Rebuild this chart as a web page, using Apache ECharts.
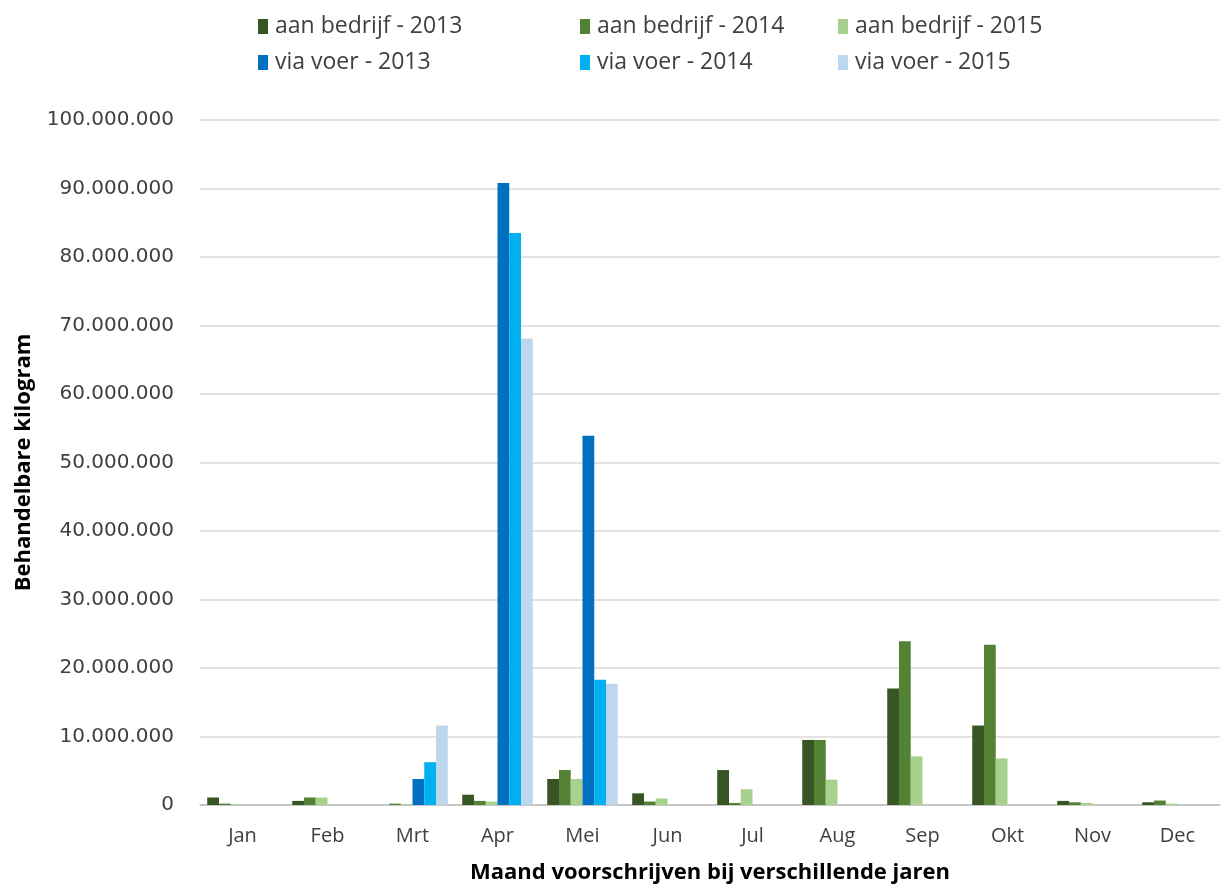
<!DOCTYPE html>
<html>
<head>
<meta charset="utf-8">
<script src="https://cdn.jsdelivr.net/npm/echarts@6/dist/echarts.min.js"></script>
<style>html,body{margin:0;padding:0;background:#fff;}#c{width:1222px;height:888px;}</style>
</head>
<body>
<div id="c"></div>
<script>
var months = ['Jan','Feb','Mrt','Apr','Mei','Jun','Jul','Aug','Sep','Okt','Nov','Dec'];
var seriesNames = ['aan bedrijf - 2013','aan bedrijf - 2014','aan bedrijf - 2015','via voer - 2013','via voer - 2014','via voer - 2015'];
var bedrijf2013 = [1100000, 600000, 0, 1500000, 3800000, 1700000, 5100000, 9500000, 17000000, 11600000, 600000, 400000];
var bedrijf2014 = [200000, 1100000, 200000, 600000, 5100000, 500000, 300000, 9500000, 23900000, 23400000, 400000, 650000];
var bedrijf2015 = [100000, 1100000, 100000, 500000, 3800000, 950000, 2300000, 3700000, 7100000, 6800000, 300000, 200000];
var voer2013 = [0, 0, 3800000, 90800000, 53900000, 0, 0, 0, 0, 0, 0, 0];
var voer2014 = [0, 0, 6250000, 83500000, 18300000, 0, 0, 0, 0, 0, 0, 0];
var voer2015 = [0, 0, 11600000, 68100000, 17700000, 0, 0, 0, 0, 0, 0, 0];
var yTicks = {min: 0, max: 100000000, interval: 10000000};

var values = [bedrijf2013, bedrijf2014, bedrijf2015, voer2013, voer2014, voer2015];
var colors = ['#375623', '#548235', '#A9D18E', '#0070C0', '#00B0F0', '#BDD7EE'];
var legendPos = [[258, 15], [580, 15], [838, 15], [258, 51], [580, 51], [838, 51]];
var legendFont = 'Open Sans';

function fmt(v) {
  return String(v).replace(/\B(?=(\d{3})+(?!\d))/g, '.');
}

var chart = echarts.init(document.getElementById('c'));
var option = {
  animation: false,
  backgroundColor: '#ffffff',
  color: colors,
  legend: seriesNames.map(function (n, i) {
    return {
      data: [n],
      left: legendPos[i][0],
      top: legendPos[i][1],
      icon: 'rect',
      itemWidth: 10,
      itemHeight: 15,
      itemGap: 0,
      padding: 0,
      textStyle: {fontFamily: legendFont, fontSize: 23, color: '#404040', padding: [0, 0, 0, 2]}
    };
  }),
  grid: {left: 200, right: 2, top: 120, bottom: 83, containLabel: false, outerBoundsMode: 'none'},
  xAxis: {
    type: 'category',
    data: months,
    name: 'Maand voorschrijven bij verschillende jaren',
    nameLocation: 'middle',
    nameGap: 57,
    nameTextStyle: {fontFamily: legendFont, fontWeight: 'bold', fontSize: 22, color: '#000'},
    axisLine: {lineStyle: {color: '#bfbfbf', width: 1.5}},
    axisTick: {show: false},
    axisLabel: {fontFamily: legendFont, fontSize: 20, color: '#404040', margin: 21}
  },
  yAxis: {
    type: 'value',
    min: yTicks.min,
    max: yTicks.max,
    interval: yTicks.interval,
    name: 'Behandelbare kilogram',
    nameLocation: 'middle',
    nameGap: 165,
    nameRotate: 90,
    nameTextStyle: {fontFamily: legendFont, fontWeight: 'bold', fontSize: 22, color: '#000'},
    axisLine: {show: false},
    axisTick: {show: false},
    splitLine: {lineStyle: {color: '#d9d9d9', width: 1.5}},
    axisLabel: {fontFamily: 'DejaVu Sans', fontSize: 20, color: '#404040', margin: 26, formatter: fmt}
  },
  series: seriesNames.map(function (n, i) {
    return {
      name: n,
      type: 'bar',
      data: values[i],
      barGap: '0%',
      barCategoryGap: '17%',
      itemStyle: {color: colors[i]}
    };
  })
};
chart.setOption(option);
</script>
</body>
</html>
